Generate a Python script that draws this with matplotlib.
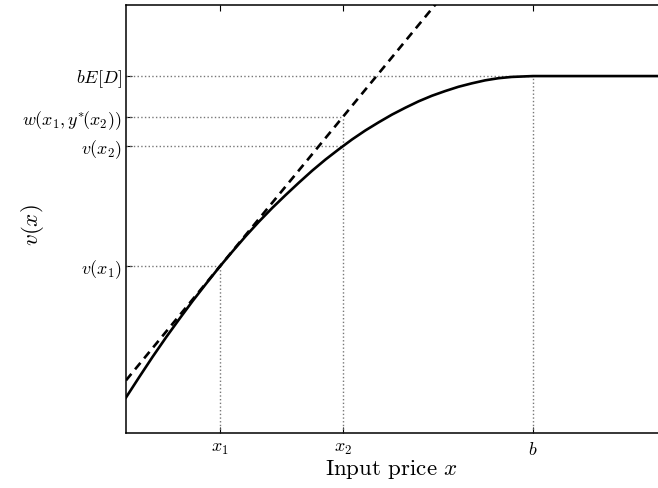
import numpy as np
import matplotlib
matplotlib.use("Agg")
import matplotlib.pyplot as plt

plt.rcParams["mathtext.fontset"] = "cm"
plt.rcParams["font.family"] = "serif"
plt.rcParams["font.serif"] = ["cmr10", "DejaVu Serif"]
plt.rcParams["axes.unicode_minus"] = False

# Value curve v(x)
price = [0.000, 0.025, 0.050, 0.075, 0.100, 0.125, 0.150, 0.175, 0.200, 0.225,
         0.250, 0.275, 0.300, 0.325, 0.350, 0.375, 0.400, 0.425, 0.450, 0.475,
         0.500, 0.525, 0.550, 0.575, 0.600, 0.625, 0.650, 0.675, 0.700, 0.725,
         0.765, 1.000]
value = [0.083, 0.131, 0.178, 0.223, 0.266, 0.308, 0.348, 0.387, 0.424, 0.460,
         0.494, 0.526, 0.556, 0.585, 0.613, 0.639, 0.663, 0.686, 0.707, 0.726,
         0.744, 0.760, 0.775, 0.788, 0.799, 0.809, 0.817, 0.824, 0.829, 0.832,
         0.834, 0.834]

# Tangent line at x1 (dashed)
tangent_x = [0.00, 0.60]
tangent_y = [0.123, 1.029]

# Marked points on the axes
x_ticks = [0.177, 0.408, 0.765]
x_labels = [r"$x_1$", r"$x_2$", r"$b$"]
y_ticks = [0.390, 0.671, 0.738, 0.834]
y_labels = [r"$v(x_1)$", r"$v(x_2)$", r"$w(x_1,y^{*}\!(x_2))$", r"$bE[D]$"]

fig = plt.figure(figsize=(6.58, 4.88), dpi=100)
ax = fig.add_axes([0.1915, 0.1127, 0.8085, 0.877])

# Dotted guide lines
guide = dict(color="#777777", linestyle=":", linewidth=1.0)
x1, x2, b = x_ticks
v1, v2, w, bed = y_ticks
ax.plot([0, x1], [v1, v1], **guide)
ax.plot([x1, x1], [0, v1], **guide)
ax.plot([0, x2], [v2, v2], **guide)
ax.plot([0, x2], [w, w], **guide)
ax.plot([x2, x2], [0, w], **guide)
ax.plot([0, b], [bed, bed], **guide)
ax.plot([b, b], [0, bed], **guide)

ax.plot(tangent_x, tangent_y, color="black", linewidth=1.9, dashes=(3.2, 2.2))
ax.plot(price, value, color="black", linewidth=1.9)

ax.set_xlim(0, 1)
ax.set_ylim(0, 1)
ax.set_xticks(x_ticks)
ax.set_xticklabels(x_labels, fontsize=13)
ax.set_yticks(y_ticks)
ax.set_yticklabels(y_labels, fontsize=13)
ax.tick_params(direction="in", length=4, top=True, right=False)
ax.tick_params(axis="y", pad=3)
ax.tick_params(axis="x", pad=6)
ax.spines["right"].set_visible(False)
for s in ["left", "bottom", "top"]:
    ax.spines[s].set_linewidth(1.1)

ax.set_xlabel(r"Input price $x$", fontsize=16.5)
ax.xaxis.set_label_coords(0.5, -0.058)
ax.set_ylabel(r"$v(x)$", fontsize=16.5)
ax.yaxis.set_label_coords(-0.150, 0.486)

fig.savefig("out.png", dpi=100)
